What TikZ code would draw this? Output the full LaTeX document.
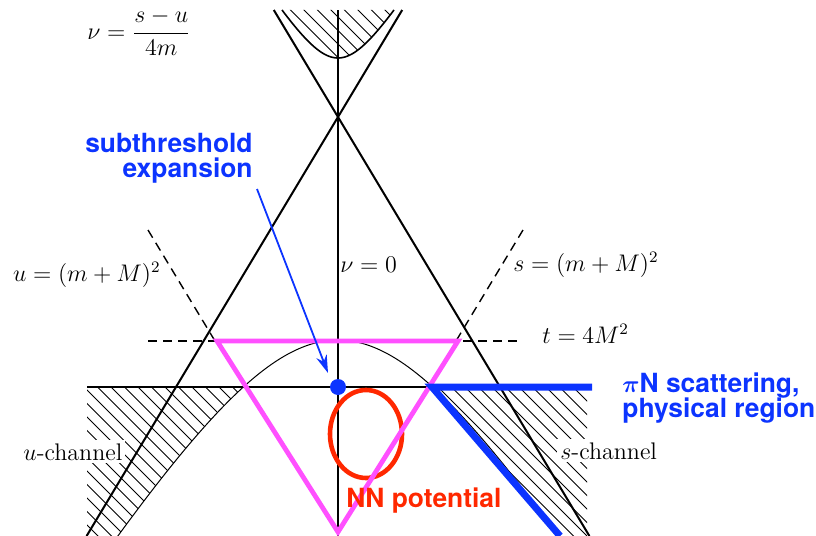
\documentclass[tikz,border=0pt]{standalone}
\usepackage[no-math]{fontspec}
\newfontfamily\hv{TeX Gyre Heros}
\usepackage{amsmath}
\usetikzlibrary{arrows.meta}
\definecolor{myblue}{RGB}{12,52,255}
\definecolor{myred}{RGB}{255,40,0}
\definecolor{mymag}{RGB}{255,80,255}
\tikzset{
  hatchline/.style={line width=0.5pt},
  mainline/.style={line width=1pt},
  axisline/.style={line width=0.75pt},
  thincurve/.style={line width=0.5pt},
  topcurve/.style={line width=0.8pt},
  dashline/.style={line width=0.7pt, dash pattern=on 4.5pt off 3pt},
  mathlab/.style={font=\fontsize{12}{14}\selectfont, inner sep=0pt},
  chanlab/.style={mathlab, fill=white, inner sep=1.5pt},
  bluelab/.style={font=\hv\bfseries\fontsize{13.2}{15}\selectfont, text=myblue, inner sep=0pt},
  redlab/.style={font=\hv\bfseries\fontsize{13.2}{15}\selectfont, text=myred, inner sep=0pt},
}
\begin{document}
\begin{tikzpicture}[x=0.5pt,y=-0.5pt]
\useasboundingbox (0,0) rectangle (816,536);
\begin{scope}
\clip (0,0) rectangle (816,536);
% top hatched region
\begin{scope}
\clip plot[domain=-56:56, samples=60] ({338+\x},{117-59*sqrt(1+(\x/37)^2)}) -- cycle;
\foreach \i in {-300,-286.5,...,600} \draw[hatchline] (\i,0) -- ++(600,600);
\end{scope}
% left hatched region
\begin{scope}
\clip (87,387) -- plot[domain=95:225, samples=40] ({338-\x},{113+227*sqrt(1+(\x/140)^2)}) -- (87,560) -- cycle;
\foreach \i in {-600,-586.5,...,300} \draw[hatchline] (\i,0) -- ++(600,600);
\end{scope}
% right hatched region
\begin{scope}
\clip (587,387) -- (587,560) -- plot[domain=-225:-95, samples=40] ({338-\x},{113+227*sqrt(1+(\x/140)^2)}) -- cycle;
\foreach \i in {-300,-286.5,...,600} \draw[hatchline] (\i,0) -- ++(600,600);
\end{scope}
% channel labels
\node[chanlab, anchor=base west] (uch) at (20,460) {$u$-channel};
\node[chanlab, anchor=base west] (sch) at (557,459) {$s$-channel};
% main lines
\coordinate (l1a) at (273.8,10);
\coordinate (l1b) at (589.4,536);
\coordinate (l2a) at (402.2,10);
\coordinate (l2b) at (86.6,536);
\draw[mainline] (l1a) -- (l1b);
\draw[mainline] (l2a) -- (l2b);
\coordinate (vt) at (338,10);
\coordinate (vb) at (338,536);
\draw[axisline] (vt) -- (vb);
\coordinate (hl) at (87,387);
\coordinate (hr) at (590,387);
\draw[axisline] (hl) -- (hr);
\draw[thincurve] plot[domain=-225:225, samples=120] ({338+\x},{113+227*sqrt(1+(\x/140)^2)});
\draw[topcurve] plot[domain=-56:56, samples=60] ({338+\x},{117-59*sqrt(1+(\x/37)^2)});
% dashed lines
\coordinate (dl) at (148,341);
\coordinate (dr) at (523,341);
\draw[dashline] (dl) -- (dr);
\coordinate (ula) at (148,230);
\coordinate (ulb) at (215,341);
\draw[dashline] (ula) -- (ulb);
\coordinate (sla) at (523,230);
\coordinate (slb) at (456,341);
\draw[dashline] (sla) -- (slb);
% red ellipse
\draw[myred, line width=2.3pt] (366,434) ellipse [x radius=18pt, y radius=22pt];
% magenta triangle
\coordinate (ta) at (217,341);
\coordinate (tb) at (458,341);
\coordinate (tc) at (338,532);
\draw[mymag, line width=2.4pt, line join=miter] (ta) -- (tb) -- (tc) -- cycle;
% blue physical region
\coordinate (pa) at (592,387);
\coordinate (pb) at (432,387);
\coordinate (pc) at (560,536);
\draw[myblue, line width=3.5pt, line join=miter] (pa) -- (pb) -- (pc);
\end{scope}
% blue dot
\node[circle, fill=myblue, minimum size=8pt, inner sep=0pt] (dot) at (338,387) {};
% math labels
\node[mathlab, anchor=base] (nudef) at (139,39) {$\displaystyle \nu=\frac{s-u}{4m}$};
\node[mathlab, anchor=base east] (ulab) at (161,281) {$u=(m+M)^2$};
\node[mathlab, anchor=base west] (slab) at (513,271) {$s=(m+M)^2$};
\node[mathlab, anchor=base west] (tlab) at (542,343) {$t=4M^2$};
\node[mathlab, anchor=base west] (nulab) at (340,272) {$\nu=0$};
% blue labels
\node[bluelab, anchor=base east] (sub1) at (253,152) {subthreshold};
\node[bluelab, anchor=base east] (sub2) at (253,177) {expansion};
\node[bluelab, anchor=base west] (pin1) at (622,392) {$\boldsymbol{\pi}$N scattering,};
\node[bluelab, anchor=base west] (pin2) at (622,417) {physical region};
\coordinate (arrs) at (257,189);
\coordinate (arre) at (328,373);
\draw[myblue, line width=0.9pt, -{Stealth[length=9pt,width=5.5pt]}] (arrs) -- (arre);
% red label
\node[redlab, anchor=base west] (nnlab) at (346,507) {NN potential};
\end{tikzpicture}
\end{document}
